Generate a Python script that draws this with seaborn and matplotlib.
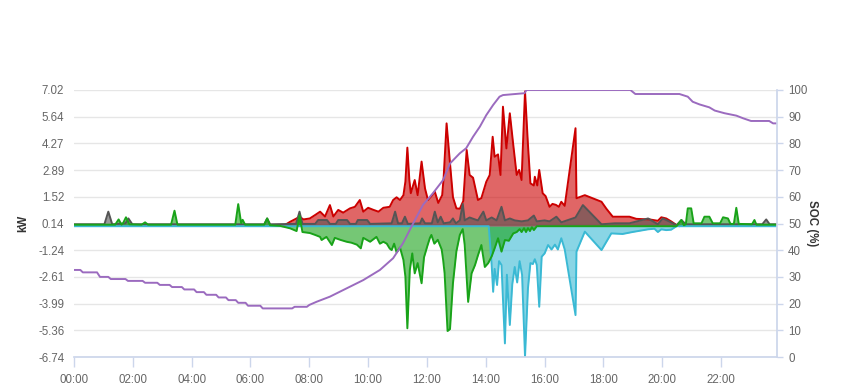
import numpy as np
import pandas as pd
import seaborn as sns
import matplotlib.pyplot as plt

# PV production (kW)
pv_time = ["07:06", "07:21", "07:34", "07:40", "07:48", "08:01", "08:12", "08:22", "08:32", "08:42",
           "08:49", "08:59", "09:09", "09:23", "09:33", "09:43", "09:50", "10:00", "10:10", "10:21",
           "10:31", "10:44", "10:51", "10:58", "11:05", "11:12", "11:16", "11:20", "11:24", "11:27",
           "11:35", "11:41", "11:49", "11:56", "12:02", "12:09", "12:16", "12:23", "12:31", "12:34",
           "12:40", "12:47", "12:53", "13:00", "13:07", "13:14", "13:21", "13:27", "13:34", "13:44",
           "13:51", "14:01", "14:08", "14:14", "14:18", "14:25", "14:30", "14:35", "14:42", "14:49",
           "14:56", "15:03", "15:08", "15:13", "15:20", "15:26", "15:31", "15:38", "15:40", "15:45",
           "15:49", "15:56", "16:02", "16:10", "16:16", "16:23", "16:29", "16:34", "16:41", "17:03",
           "17:05", "17:22", "17:32", "17:56", "18:06", "18:19", "18:39", "18:53", "19:07", "19:34",
           "19:51", "19:58", "20:08", "20:18", "20:29", "20:35"]
pv_kw = [0.0, 0.23, 0.4, 0.49, 0.35, 0.4, 0.58, 0.75, 0.5, 1.09,
         0.5, 0.84, 0.7, 0.92, 1.0, 1.35, 0.75, 0.95, 0.85, 0.75,
         0.95, 1.0, 1.35, 1.49, 1.35, 1.6, 2.3, 4.05, 2.4, 1.7,
         2.38, 1.6, 3.33, 1.95, 1.35, 1.55, 1.78, 1.2, 1.6, 2.5,
         5.3, 3.24, 1.5, 0.92, 0.9, 1.3, 3.93, 2.64, 2.5, 1.35,
         1.45, 2.29, 2.64, 4.61, 3.58, 3.7, 2.64, 6.16, 4.01, 5.82,
         4.2, 2.64, 2.9, 2.38, 6.95, 4.2, 2.21, 2.1, 2.55, 2.1,
         2.9, 1.7, 1.55, 1.0, 1.15, 1.1, 1.0, 1.26, 1.05, 5.05,
         1.44, 1.6, 1.5, 1.26, 0.9, 0.49, 0.49, 0.49, 0.38, 0.35,
         0.28, 0.46, 0.4, 0.25, 0.06, 0.0]

# house load (kW)
load_time = ["00:00", "01:02", "01:10", "01:18", "01:45", "01:51", "01:59", "06:28", "06:34", "06:40",
             "07:33", "07:40", "07:46", "08:12", "08:18", "08:36", "08:42", "08:54", "08:59", "09:17",
             "09:23", "09:35", "09:39", "09:58", "10:04", "10:48", "10:55", "11:01", "11:09", "11:15",
             "11:21", "11:46", "11:50", "11:56", "12:10", "12:16", "12:22", "12:28", "12:34", "12:47",
             "12:53", "12:59", "13:07", "13:13", "13:17", "13:27", "13:38", "13:44", "13:55", "14:01",
             "14:12", "14:22", "14:32", "14:39", "14:49", "14:59", "15:13", "15:26", "15:38", "15:44",
             "16:00", "16:10", "16:24", "16:34", "17:03", "17:18", "17:56", "18:23", "18:53", "19:31",
             "19:51", "20:01", "20:18", "20:29", "20:39", "20:48", "23:24", "23:32", "23:39", "23:53"]
load_kw = [0.1, 0.1, 0.75, 0.1, 0.15, 0.4, 0.1, 0.1, 0.4, 0.1,
           0.12, 0.75, 0.12, 0.12, 0.32, 0.32, 0.12, 0.12, 0.32, 0.32,
           0.12, 0.12, 0.32, 0.32, 0.12, 0.15, 0.75, 0.15, 0.15, 0.49,
           0.12, 0.15, 0.4, 0.15, 0.15, 0.75, 0.2, 0.49, 0.15, 0.2,
           0.4, 0.15, 0.3, 1.15, 0.3, 0.45, 0.35, 0.3, 0.75, 0.3,
           0.45, 0.3, 1.0, 0.3, 0.4, 0.3, 0.25, 0.3, 0.55, 0.25,
           0.3, 0.25, 0.49, 0.2, 0.45, 1.09, 0.1, 0.15, 0.15, 0.4,
           0.1, 0.4, 0.2, 0.05, 0.32, 0.1, 0.1, 0.35, 0.1, 0.1]

# grid (kW, negative = export)
grid_time = ["00:00", "14:06", "14:12", "14:15", "14:18", "14:23", "14:27", "14:32", "14:39", "14:43",
             "14:49", "14:54", "14:59", "15:04", "15:09", "15:14", "15:20", "15:26", "15:31", "15:36",
             "15:40", "15:44", "15:49", "15:54", "16:00", "16:07", "16:14", "16:21", "16:27", "16:34",
             "16:41", "17:03", "17:05", "17:22", "17:56", "18:16", "18:39", "18:59", "19:31", "19:44",
             "19:51", "19:58", "20:08", "20:18", "20:29", "23:53"]
grid_kw = [0.0, 0.0, -2.0, -3.38, -2.2, -3.03, -1.8, -2.0, -6.04, -2.5,
           -5.09, -3.0, -2.1, -2.9, -1.8, -2.5, -6.72, -3.2, -1.9, -1.95,
           -1.7, -2.0, -4.15, -1.57, -1.4, -0.97, -1.2, -0.95, -1.2, -0.62,
           -1.2, -4.58, -1.31, -0.28, -1.23, -0.37, -0.4, -0.3, -0.16, -0.13,
           -0.3, -0.16, -0.2, -0.18, 0.0, 0.0]

# battery (kW, negative = charging)
batt_time = ["00:00", "01:24", "01:31", "01:37", "01:40", "01:46", "01:53", "02:18", "02:25", "02:31",
             "03:18", "03:25", "03:31", "05:29", "05:35", "05:41", "05:44", "05:49", "06:28", "06:34",
             "06:40", "07:00", "07:21", "07:34", "07:40", "07:46", "08:01", "08:12", "08:22", "08:25",
             "08:35", "08:46", "08:52", "09:03", "09:16", "09:26", "09:37", "09:45", "09:50", "10:04",
             "10:17", "10:24", "10:31", "10:38", "10:44", "10:48", "10:53", "10:58", "11:05", "11:12",
             "11:16", "11:20", "11:25", "11:30", "11:35", "11:41", "11:49", "11:54", "12:01", "12:06",
             "12:09", "12:15", "12:22", "12:30", "12:33", "12:36", "12:42", "12:47", "12:53", "13:00",
             "13:07", "13:13", "13:17", "13:24", "13:31", "13:38", "13:44", "13:51", "13:58", "14:05",
             "14:12", "14:18", "14:25", "14:32", "14:39", "14:47", "14:56", "15:03", "15:09", "15:13",
             "15:18", "15:22", "15:26", "15:30", "15:34", "15:38", "15:44", "20:29", "20:39", "20:44",
             "20:48", "20:52", "20:59", "21:04", "21:20", "21:26", "21:36", "21:43", "21:58", "22:04",
             "22:14", "22:19", "22:26", "22:31", "22:36", "23:03", "23:08", "23:12", "23:53"]
batt_kw = [0.08, 0.08, 0.35, 0.08, 0.15, 0.46, 0.1, 0.08, 0.2, 0.08,
           0.08, 0.8, 0.08, 0.08, 1.14, 0.15, 0.33, 0.08, 0.08, 0.4,
           0.05, 0.02, -0.11, -0.25, 0.55, -0.3, -0.35, -0.45, -0.55, -0.71,
           -0.55, -0.97, -0.6, -0.7, -0.8, -0.85, -0.95, -1.14, -0.6, -0.8,
           -0.55, -0.9, -0.8, -0.9, -1.15, -1.23, -0.9, -1.35, -1.1, -1.74,
           -2.6, -5.26, -2.26, -1.4, -2.43, -1.9, -2.94, -1.6, -1.0, -0.6,
           -0.45, -0.9, -0.7, -1.2, -1.74, -2.43, -5.4, -5.3, -2.94, -1.3,
           -0.45, -0.15, -0.97, -3.9, -2.43, -2.0, -1.5, -0.97, -2.1, -1.9,
           -1.55, -1.14, -0.62, -1.31, -0.71, -0.75, -0.37, -0.3, -0.15, -0.3,
           -0.1, -0.3, -0.1, -0.25, -0.05, -0.2, 0.0, 0.0, 0.32, 0.05,
           0.1, 0.92, 0.92, 0.15, 0.15, 0.49, 0.49, 0.15, 0.15, 0.46,
           0.4, 0.12, 0.12, 0.95, 0.12, 0.1, 0.32, 0.08, 0.08]

# battery state of charge (%)
soc_time = ["00:00", "00:13", "00:18", "00:47", "00:53", "01:10", "01:15", "01:45", "01:50", "02:20",
            "02:25", "02:50", "02:55", "03:15", "03:20", "03:40", "03:45", "04:05", "04:10", "04:25",
            "04:30", "04:50", "04:55", "05:10", "05:15", "05:30", "05:35", "05:50", "05:55", "06:20",
            "06:25", "07:25", "07:30", "07:55", "08:00", "08:15", "08:42", "09:16", "09:50", "10:24",
            "10:51", "11:11", "11:32", "11:52", "12:12", "12:33", "12:47", "13:07", "13:20", "13:34",
            "13:48", "14:01", "14:15", "14:28", "14:35", "15:19", "15:23", "18:55", "19:05", "20:35",
            "20:52", "21:02", "21:16", "21:36", "21:47", "22:07", "22:31", "22:45", "23:01", "23:38",
            "23:46", "23:53"]
soc_pct = [32.6, 32.6, 31.7, 31.7, 30.0, 30.0, 29.2, 29.2, 28.5, 28.5,
           27.8, 27.8, 27.0, 27.0, 26.2, 26.2, 25.3, 25.3, 24.3, 24.3,
           23.3, 23.3, 22.3, 22.3, 21.3, 21.3, 20.3, 20.3, 19.2, 19.2,
           18.2, 18.2, 18.8, 18.8, 19.5, 20.7, 22.6, 25.7, 28.8, 32.6,
           37.0, 42.6, 50.1, 57.0, 61.3, 66.3, 72.5, 76.3, 78.2, 82.5,
           86.3, 90.6, 94.4, 97.5, 98.1, 98.8, 100, 100, 98.5, 98.5,
           97.5, 95.6, 94.6, 93.5, 92.3, 91.3, 90.4, 89.4, 88.4, 88.4,
           87.5, 87.5]

kw_ticks = [-6.74, -5.36, -3.99, -2.61, -1.24, 0.14, 1.52, 2.89, 4.27, 5.64, 7.02]
soc_ticks = [0, 10, 20, 30, 40, 50, 60, 70, 80, 90, 100]
hour_ticks = [0, 2, 4, 6, 8, 10, 12, 14, 16, 18, 20, 22]
hour_labels = ["00:00", "02:00", "04:00", "06:00", "08:00", "10:00",
               "12:00", "14:00", "16:00", "18:00", "20:00", "22:00"]


def to_hours(times):
    td = pd.to_timedelta([t + ":00" for t in times])
    return np.asarray(td.total_seconds()) / 3600.0


sns.set_theme(style="white")
plt.rcParams['font.family'] = ['Liberation Sans', 'DejaVu Sans']

fig, ax = plt.subplots(figsize=(8.49, 3.9), dpi=100)
fig.subplots_adjust(left=74 / 849, right=777 / 849, bottom=33 / 390, top=300 / 390)

# series drawn in order: pv, load, grid, battery
series = [
    (pv_time, pv_kw, "#cc0000"),
    (load_time, load_kw, "#555555"),
    (grid_time, grid_kw, "#3ab9d4"),
    (batt_time, batt_kw, "#19a319"),
]
for times, vals, col in series:
    h = to_hours(times)
    ax.fill_between(h, 0, vals, color=col, alpha=0.6, lw=0)
    sns.lineplot(x=h, y=vals, ax=ax, color=col, linewidth=1.4, estimator=None, sort=False)

ax.set_xlim(0, 23.9)
ax.set_ylim(-6.74, 7.02)
ax.set_yticks(kw_ticks)
ax.set_yticklabels([f"{v:.2f}" for v in kw_ticks])
ax.set_xticks(hour_ticks)
ax.set_xticklabels(hour_labels)
ax.yaxis.grid(True, color="#e6e6e6", lw=1)
ax.xaxis.grid(False)
ax.set_axisbelow(True)
for s in ["left", "top", "right"]:
    ax.spines[s].set_visible(False)
ax.spines["bottom"].set_color("#ccd6eb")
ax.tick_params(axis="y", length=0, pad=7, labelsize=8.3, labelcolor="#666666")
ax.tick_params(axis="x", length=7, width=1, color="#ccd6eb", pad=5, labelsize=8.3,
               labelcolor="#666666", bottom=True)
ax.set_ylabel("kW", fontsize=8.3, fontweight="bold", color="#333333")
ax.yaxis.set_label_coords(-0.063, 0.5)
ax.set_xlabel("")

ax2 = ax.twinx()
sns.lineplot(x=to_hours(soc_time), y=soc_pct, ax=ax2, color="#9b6bbf", linewidth=1.4,
             estimator=None, sort=False)
ax2.set_ylim(0, 100)
ax2.set_yticks(soc_ticks)
ax2.set_yticklabels([str(v) for v in soc_ticks])
ax2.grid(False)
for s in ["left", "top", "bottom"]:
    ax2.spines[s].set_visible(False)
ax2.spines["right"].set_color("#ccd6eb")
ax2.tick_params(axis="y", right=True, length=4, width=1, color="#ccd6eb", pad=4,
                labelsize=8.3, labelcolor="#666666")
ax2.set_ylabel("SOC (%)", fontsize=8.3, fontweight="bold", color="#333333", rotation=270)
ax2.yaxis.set_label_coords(1.058, 0.5)

fig.savefig("out.png", dpi=100)
